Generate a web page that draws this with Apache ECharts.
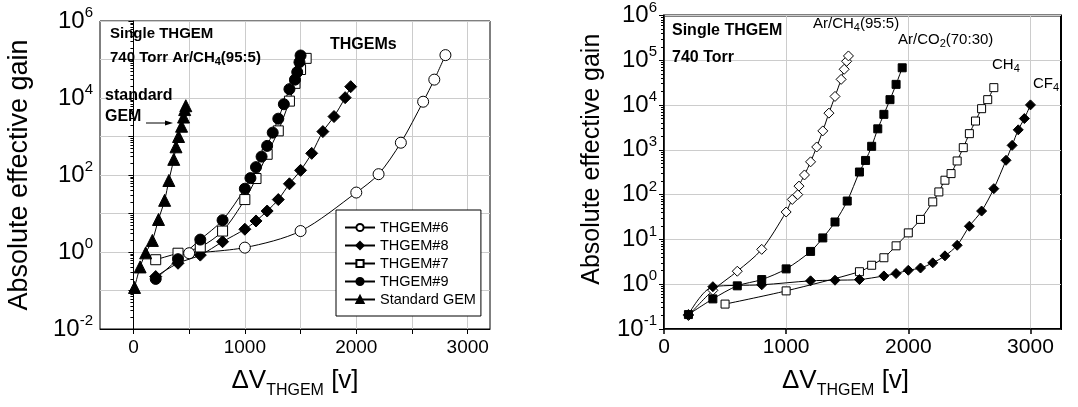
<!DOCTYPE html>
<html><head><meta charset="utf-8">
<script src="https://cdn.jsdelivr.net/npm/echarts/dist/echarts.min.js"></script>
<style>html,body{margin:0;padding:0;background:#fff}#c{width:1078px;height:407px}</style>
</head><body><div id="c"></div>
<script>
// ---------- Left chart data ----------
const thgem6V = [500, 1000, 1500, 2000, 2200, 2400, 2600, 2700, 2800];
const thgem6Gain = [0.93, 1.3, 3.5, 35, 105, 690, 8000, 30000, 130000];
const thgem8V = [200, 400, 600, 800, 1000, 1100, 1200, 1300, 1400, 1500, 1600, 1700, 1800, 1900, 1950];
const thgem8Gain = [0.23, 0.51, 0.83, 1.85, 3.9, 6.4, 11.6, 23, 59, 132, 365, 1340, 3300, 10200, 19700];
const thgem7V = [200, 400, 600, 800, 1000, 1100, 1200, 1300, 1400, 1450, 1500, 1550];
const thgem7Gain = [0.63, 0.93, 1.35, 3.5, 23, 81, 345, 1400, 8300, 24000, 55000, 107000];
const thgem9V = [200, 400, 600, 800, 1000, 1050, 1100, 1150, 1200, 1250, 1300, 1350, 1400, 1450, 1470, 1490, 1500];
const thgem9Gain = [0.2, 0.65, 2.1, 6.7, 44, 83, 160, 300, 570, 1260, 2900, 6900, 17000, 30000, 47000, 85000, 127000];
const gemV = [10, 60, 110, 170, 225, 280, 318, 362, 382, 405, 432, 450, 460, 470];
const gemGain = [0.12, 0.41, 0.95, 2.0, 7, 22, 72, 255, 540, 1000, 1850, 3200, 5000, 6300];
const leftLegend = ['THGEM#6', 'THGEM#8', 'THGEM#7', 'THGEM#9', 'Standard GEM'];
const leftXTicks = [0, 500, 1000, 1500, 2000, 2500, 3000];
const leftXLabels = [0, 1000, 2000, 3000];

// ---------- Right chart data ----------
const arCh4V = [200, 400, 600, 800, 1000, 1050, 1095, 1105, 1150, 1200, 1250, 1300, 1350, 1400, 1450, 1475, 1495, 1510];
const arCh4Gain = [0.2, 0.73, 1.95, 6.0, 41, 78, 100, 155, 275, 540, 1160, 2650, 6600, 15600, 37500, 63000, 95000, 125000];
const arCo2V = [200, 400, 600, 800, 1000, 1200, 1300, 1400, 1500, 1600, 1650, 1700, 1750, 1800, 1850, 1900, 1950];
const arCo2Gain = [0.21, 0.47, 0.92, 1.27, 2.2, 5.4, 10.8, 24.5, 72, 320, 580, 1200, 2950, 6200, 13200, 29000, 68000];
const ch4V = [500, 1000, 1600, 1700, 1800, 1900, 2000, 2100, 2200, 2250, 2300, 2350, 2400, 2450, 2500, 2550, 2600, 2650, 2700];
const ch4Gain = [0.36, 0.71, 1.9, 2.65, 3.9, 7.2, 14, 28, 69, 115, 210, 295, 565, 1120, 2300, 4400, 8300, 13200, 24500];
const cf4V = [200, 400, 800, 1200, 1400, 1600, 1800, 1900, 2000, 2100, 2200, 2300, 2400, 2500, 2600, 2700, 2800, 2850, 2900, 2950, 3000];
const cf4Gain = [0.21, 0.88, 0.97, 1.19, 1.23, 1.27, 1.53, 1.73, 2.05, 2.3, 3.0, 4.3, 7.4, 19.7, 43, 136, 585, 1260, 2800, 5000, 10100];
const rightXLabels = [0, 1000, 2000, 3000];

const FONT = 'Liberation Sans, Arial, sans-serif';
function zip(xs, ys) { return xs.map((x, i) => [x, ys[i]]); }
function mk(name, xs, ys, symbol, size, filled, idx) {
  return {
    name: name, type: 'line', xAxisIndex: idx, yAxisIndex: idx,
    data: zip(xs, ys), smooth: 0.3, symbol: symbol, symbolSize: size,
    showSymbol: true, showAllSymbol: true,
    lineStyle: { color: '#000', width: 1 },
    itemStyle: { color: filled ? '#000' : '#fff', borderColor: '#000', borderWidth: 1 },
    emphasis: { disabled: true }, animation: false
  };
}
function expLabel(show) {
  return {
    formatter: function (v) {
      const n = Math.round(Math.log10(v));
      if (!show(n)) return '';
      return '{b|10}{e|' + n + '}';
    },
    margin: 7,
    rich: {
      b: { fontSize: 24, fontFamily: FONT, color: '#000' },
      e: { fontSize: 15, fontFamily: FONT, color: '#000', padding: [0, 0, 16, 0] }
    }
  };
}
const plain = v => String(Math.round(v));
const grid0 = { left: 100, top: 21, width: 390, height: 308, show: true, borderColor: '#000', borderWidth: 1, backgroundColor: 'transparent' };
const grid1 = { left: 664, top: 15, width: 397, height: 314, show: true, borderColor: '#000', borderWidth: 2, backgroundColor: 'transparent' };
const split = { show: true, lineStyle: { color: '#cccccc', width: 1 } };
const xName = '{d|ΔV}{s|THGEM}{d| [v]}';
const xNameRich = {
  d: { fontSize: 26, fontFamily: FONT, color: '#000' },
  s: { fontSize: 16, fontFamily: FONT, color: '#000', padding: [20, 0, 0, 0] }
};

const option = {
  animation: false,
  backgroundColor: '#fff',
  grid: [grid0, grid1],
  xAxis: [
    {
      gridIndex: 0, type: 'value', min: -300, max: 3200,
      axisLine: { show: true, lineStyle: { color: '#000', width: 1 } },
      axisTick: { show: true, length: 5, customValues: leftXTicks, lineStyle: { color: '#000' } },
      axisLabel: { customValues: leftXLabels, formatter: plain, fontSize: 19, fontFamily: FONT, color: '#000', margin: 9 },
      splitLine: split,
      name: xName, nameLocation: 'middle', nameGap: 34,
      nameTextStyle: { rich: xNameRich }
    },
    {
      gridIndex: 1, type: 'value', min: 0, max: 3250,
      axisLine: { show: true, lineStyle: { color: '#000', width: 1.5 } },
      axisTick: { show: true, length: 5, customValues: rightXLabels, lineStyle: { color: '#000', width: 1.5 } },
      axisLabel: { customValues: rightXLabels, formatter: plain, fontSize: 21, fontFamily: FONT, color: '#000', margin: 8 },
      splitLine: split,
      name: xName, nameLocation: 'middle', nameGap: 34,
      nameTextStyle: { rich: xNameRich, padding: [0, 34, 0, 0] }
    }
  ],
  yAxis: [
    {
      gridIndex: 0, type: 'log', logBase: 10, min: 0.01, max: 1e6,
      axisLine: { show: true, lineStyle: { color: '#000', width: 1 } },
      axisTick: { show: true, length: 5, lineStyle: { color: '#000' } },
      minorTick: { show: true, splitNumber: 9, length: 3, lineStyle: { color: '#000' } },
      axisLabel: expLabel(n => n % 2 === 0),
      splitLine: split,
      name: 'Absolute effective gain', nameLocation: 'middle', nameGap: 67,
      nameTextStyle: { fontSize: 27, fontFamily: FONT, color: '#000' }
    },
    {
      gridIndex: 1, type: 'log', logBase: 10, min: 0.1, max: 1e6,
      axisLine: { show: true, lineStyle: { color: '#000', width: 1.5 } },
      axisTick: { show: true, length: 5, lineStyle: { color: '#000' } },
      minorTick: { show: true, splitNumber: 9, length: 3, lineStyle: { color: '#000' } },
      axisLabel: expLabel(n => true),
      splitLine: split,
      name: 'Absolute effective gain', nameLocation: 'middle', nameGap: 59,
      nameTextStyle: { fontSize: 25, fontFamily: FONT, color: '#000', padding: [0, 0, 0, 26] }
    }
  ],
  legend: {
    data: leftLegend, orient: 'vertical', left: 336, top: 210,
    itemWidth: 30, itemHeight: 9, itemGap: 3,
    padding: [10, 5, 9, 8],
    backgroundColor: '#fff', borderColor: '#000', borderWidth: 1,
    textStyle: { fontSize: 14.5, fontFamily: FONT, color: '#000' },
    selectedMode: false
  },
  series: [
    mk('THGEM#6', thgem6V, thgem6Gain, 'circle', 11, false, 0),
    mk('THGEM#8', thgem8V, thgem8Gain, 'diamond', 12, true, 0),
    mk('THGEM#7', thgem7V, thgem7Gain, 'rect', 10, false, 0),
    mk('THGEM#9', thgem9V, thgem9Gain, 'circle', 11, true, 0),
    mk('Standard GEM', gemV, gemGain, 'triangle', 12, true, 0),
    mk('Ar/CH4(95:5)', arCh4V, arCh4Gain, 'diamond', 10, false, 1),
    mk('Ar/CO2(70:30)', arCo2V, arCo2Gain, 'rect', 8, true, 1),
    mk('CH4', ch4V, ch4Gain, 'rect', 8, false, 1),
    mk('CF4', cf4V, cf4Gain, 'diamond', 10, true, 1)
  ],
  graphic: (function () {
    const bold = (x, y, t, fs) => ({ type: 'text', left: x, top: y, z: 100,
      style: { text: t, fontSize: fs, fontWeight: 'bold', fontFamily: FONT, fill: '#000' } });
    const rich = (x, y, t, fs, w) => ({ type: 'text', left: x, top: y, z: 100,
      style: { text: t, fill: '#000', rich: {
        a: { fontSize: fs, fontWeight: w, fontFamily: FONT, fill: '#000' },
        s: { fontSize: Math.round(fs * 0.7), fontWeight: w, fontFamily: FONT, fill: '#000', padding: [Math.round(fs * 0.6), 0, 0, 0] }
      } } });
    return [
      bold(110, 26, 'Single THGEM', 15),
      rich(110, 50, '{a|740 Torr Ar/CH}{s|4}{a|(95:5)}', 15, 'bold'),
      bold(330, 37, 'THGEMs', 16),
      bold(105, 88, 'standard', 16),
      bold(105, 109, 'GEM', 16),
      { type: 'line', z: 100, shape: { x1: 146, y1: 123, x2: 170, y2: 123 }, style: { stroke: '#000', lineWidth: 1 } },
      { type: 'polygon', z: 100, shape: { points: [[173, 123], [165, 120.5], [165, 125.5]] }, style: { fill: '#000' } },
      bold(672, 23, 'Single THGEM', 16),
      bold(672, 50, '740 Torr', 16),
      rich(813, 16, '{a|Ar/CH}{s|4}{a|(95:5)}', 15, 'normal'),
      rich(898, 32, '{a|Ar/CO}{s|2}{a|(70:30)}', 15, 'normal'),
      rich(992, 57, '{a|CH}{s|4}', 15, 'normal'),
      rich(1033, 76, '{a|CF}{s|4}', 15, 'normal')
    ];
  })()
};
const chart = echarts.init(document.getElementById('c'), null, { renderer: 'canvas' });
chart.setOption(option);
</script></body></html>
